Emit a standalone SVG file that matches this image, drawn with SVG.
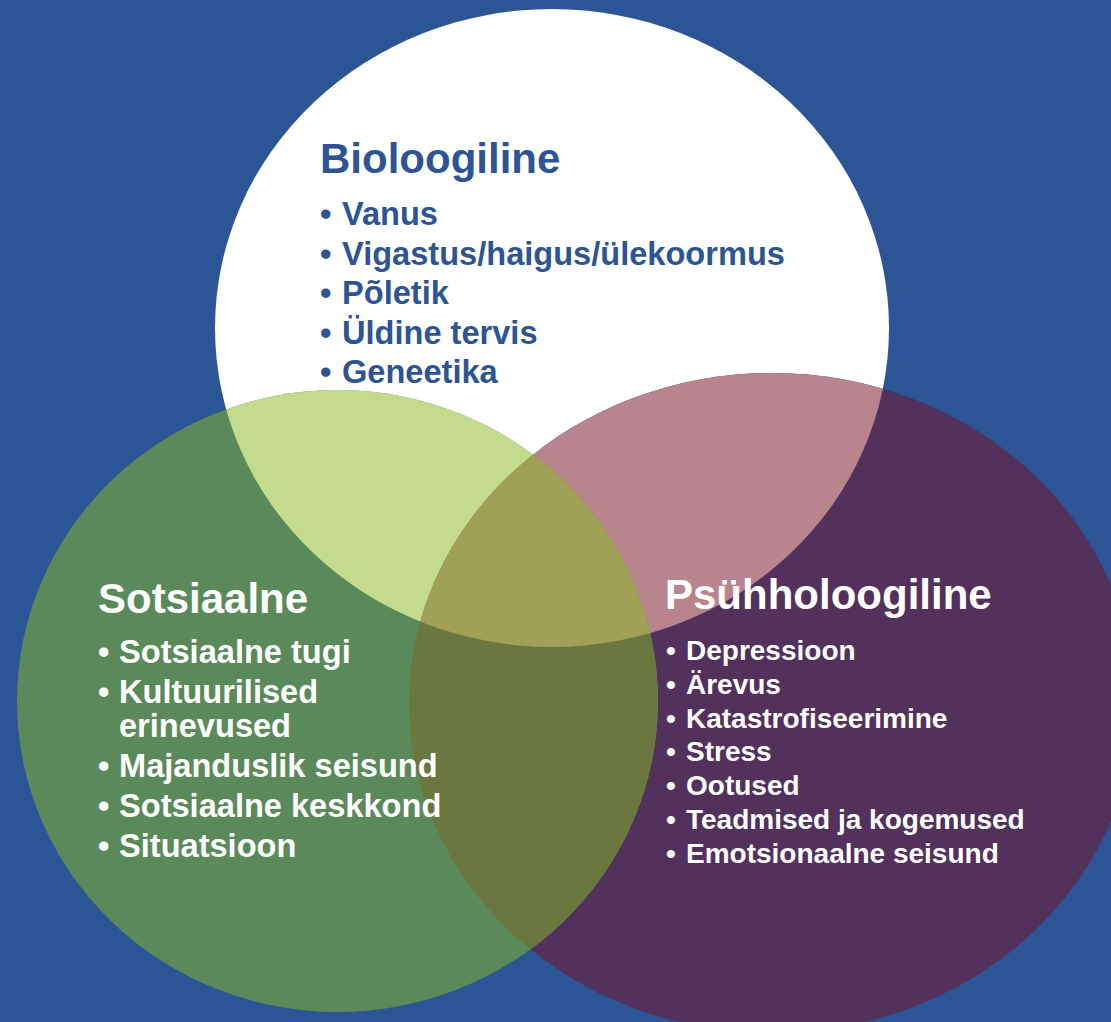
<svg xmlns="http://www.w3.org/2000/svg" width="1111" height="1022" viewBox="0 0 1111 1022">
<style>
text{font-family:"Liberation Sans",Arial,Helvetica,sans-serif;font-weight:bold}
.title{font-size:42px}
.item{font-size:32.6px}
.item-s{font-size:28px}
.blue{fill:#2d5596}
.white{fill:#ffffff}
</style>
<defs>
<clipPath id="clip-white"><ellipse cx="552" cy="328" rx="337" ry="319"/></clipPath>
<clipPath id="clip-purple"><ellipse cx="772" cy="703" rx="363" ry="330"/></clipPath>
<clipPath id="clip-green"><ellipse cx="337.5" cy="701" rx="320.5" ry="311"/></clipPath>
</defs>
<rect width="1111" height="1022" fill="#2c5595"/>
<g id="connectors"/>
<g id="node-bio">
<ellipse cx="552" cy="328" rx="337" ry="319" fill="#ffffff"/>
<text class="title blue" x="320" y="173">Bioloogiline</text>
<g class="item blue">
<text x="320" y="225">•</text><text x="342" y="225">Vanus</text>
<text x="320" y="264.5">•</text><text x="342" y="264.5">Vigastus/haigus/ülekoormus</text>
<text x="320" y="304">•</text><text x="342" y="304">Põletik</text>
<text x="320" y="343.5">•</text><text x="342" y="343.5">Üldine tervis</text>
<text x="320" y="383">•</text><text x="342" y="383">Geneetika</text>
</g>
</g>
<g id="node-psyh">
<ellipse cx="772" cy="703" rx="363" ry="330" fill="#52315c"/>
<ellipse cx="552" cy="328" rx="337" ry="319" fill="#b8848d" clip-path="url(#clip-purple)"/>
<text class="title white" x="665" y="609">Psühholoogiline</text>
<g class="item-s white">
<text x="666" y="660">•</text><text x="686" y="660">Depressioon</text>
<text x="666" y="694">•</text><text x="686" y="694">Ärevus</text>
<text x="666" y="728">•</text><text x="686" y="728">Katastrofiseerimine</text>
<text x="666" y="761">•</text><text x="686" y="761">Stress</text>
<text x="666" y="795">•</text><text x="686" y="795">Ootused</text>
<text x="666" y="829">•</text><text x="686" y="829">Teadmised ja kogemused</text>
<text x="666" y="863">•</text><text x="686" y="863">Emotsionaalne seisund</text>
</g>
</g>
<g id="node-sotsiaalne">
<ellipse cx="337.5" cy="701" rx="320.5" ry="311" fill="#5a8a5a"/>
<ellipse cx="552" cy="328" rx="337" ry="319" fill="#c2db8c" clip-path="url(#clip-green)"/>
<ellipse cx="772" cy="703" rx="363" ry="330" fill="#6a773e" clip-path="url(#clip-green)"/>
<g clip-path="url(#clip-green)">
<ellipse cx="552" cy="328" rx="337" ry="319" fill="#a0a056" clip-path="url(#clip-purple)"/>
</g>
<text class="title white" x="98" y="613">Sotsiaalne</text>
<g class="item white">
<text x="98" y="663">•</text><text x="119" y="663">Sotsiaalne tugi</text>
<text x="98" y="703">•</text><text x="119" y="703">Kultuurilised</text>
<text x="119" y="737">erinevused</text>
<text x="98" y="777">•</text><text x="119" y="777">Majanduslik seisund</text>
<text x="98" y="817">•</text><text x="119" y="817">Sotsiaalne keskkond</text>
<text x="98" y="857">•</text><text x="119" y="857">Situatsioon</text>
</g>
</g>
</svg>
